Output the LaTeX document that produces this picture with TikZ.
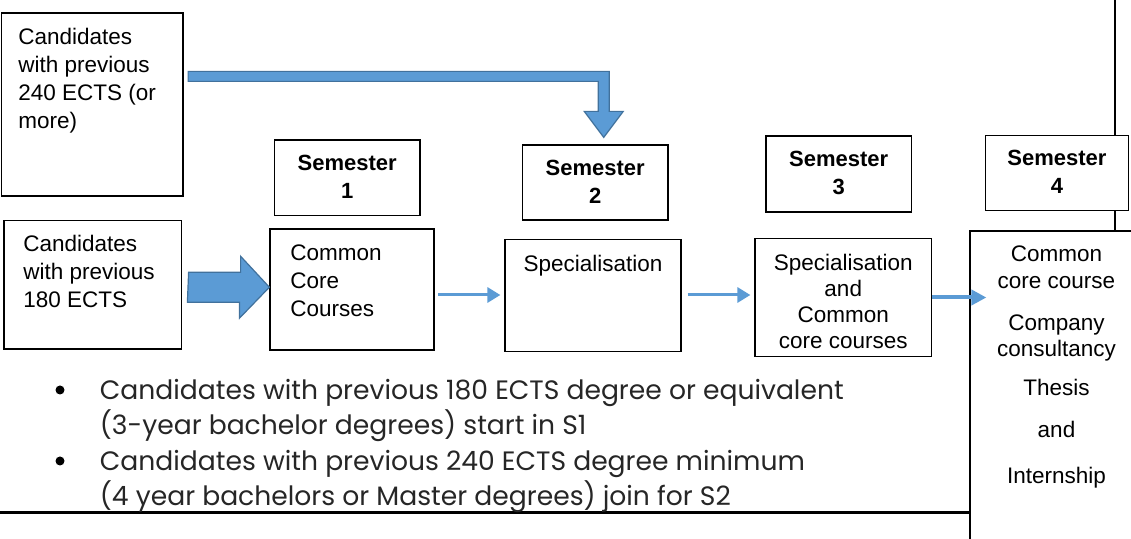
\documentclass[tikz,border=0pt]{standalone}
\usepackage{fontspec}
\setmainfont{Liberation Sans}
\newfontfamily\bulletfont{Poppins}
\usetikzlibrary{calc,fit,arrows.meta}
\definecolor{arrowblue}{HTML}{5B9BD5}
\definecolor{arrowedge}{HTML}{41719C}
\tikzset{
  box/.style={draw, line width=0.6pt, inner sep=0pt, fill=white},
  semtext/.style={inner sep=0pt, font=\bfseries\fontsize{11}{14}\selectfont, align=center},
  boxtext/.style={inner sep=0pt, font=\fontsize{11.25}{14}\selectfont},
  fatarrow/.style={fill=arrowblue, draw=arrowedge, line width=0.6pt, line join=miter},
  thinarrow/.style={draw=arrowblue, line width=1.5pt, -{Triangle[length=6.5pt,width=7.5pt]}},
  rule/.style={line width=1.2pt},
  bullettext/.style={inner sep=0pt, font=\bulletfont\fontsize{13.3}{17.5}\selectfont, text=black!85, align=left},
  dot/.style={circle, fill=black, inner sep=0pt, minimum size=4.5pt},
}
\begin{document}
\begin{tikzpicture}[x=0.5pt, y=-0.5pt]
			%%%%% FRAME %%%%%
			\clip (0,0) rectangle (1131,539);
			\draw[rule] (1115,-5) -- (1115,231);
			\draw[rule] (0,512.5) -- (970,512.5);
			
			%%%%% ENTRY BOXES %%%%%
			\node[box, fit={(1.5,13) (183,196)}] (b240) {};
			\node[boxtext, anchor=north west, align=left] (t240) at (18,28) {Candidates\\with previous\\240 ECTS (or\\more)};
			
			\node[box, fit={(4,220.5) (181.5,349)}] (b180) {};
			\node[boxtext, anchor=north west, align=left] (t180) at (23,235) {Candidates\\with previous\\180 ECTS};
			
			%%%%% SEMESTERS %%%%%
			\node[box, fit={(274.5,140) (420,215.5)}] (sem1) {};
			\node[semtext, anchor=north] (ts1) at (sem1.north |- 0,155) {Semester\\1};
			\node[box, fit={(522.5,145) (668,220)}] (sem2) {};
			\node[semtext, anchor=north] (ts2) at (sem2.north |- 0,160) {Semester\\2};
			\node[box, fit={(766,136) (911.5,212)}] (sem3) {};
			\node[semtext, anchor=north] (ts3) at (sem3.north |- 0,151) {Semester\\3};
			\node[box, fit={(985.5,135.5) (1128.5,210.5)}] (sem4) {};
			\node[semtext, anchor=north] (ts4) at (sem4.north |- 0,150) {Semester\\4};
			
			\node[box, fit={(270,229) (434,350)}] (ccc) {};
			\node[boxtext, anchor=north west, align=left] (tccc) at (290,244.5) {Common\\Core\\Courses};
			
			\node[box, fit={(505,239.5) (681,351.5)}] (spec) {};
			\node[boxtext, anchor=north] (tspec) at (spec.north |- 0,255) {Specialisation};
			
			\node[box, fit={(755,238.5) (931.5,356.5)}] (spc) {};
			\node[boxtext, anchor=north, align=center, font=\fontsize{11.25}{12.9}\selectfont] (tspc) at (spc.north |- 0,254) {Specialisation\\and\\Common\\core courses};
			
			\node[box, fit={(970,231) (1140,550)}] (s4c) {};
			\node[boxtext, anchor=north, align=center, font=\fontsize{11.25}{13.3}\selectfont] (ts4c) at (1056.5,245.5) {Common\\core course\\[7.7pt]Company\\consultancy\\[6pt]Thesis\\[7.8pt]and\\[9.7pt]Internship};
			
			%%%%% ARROWS %%%%%
			\coordinate (flow) at (0,295);
			\draw[fatarrow] ($(b180.east)+(6.5,2.5)$) coordinate (fa) ++(0,-15) -- ++(52,0) -- ++(0,-16) -- (ccc.west |- fa) -- ++(-30,31) -- ++(0,-16) -- ++(-52,0) -- cycle;
			
			\coordinate (ba) at ($(b240.north east)+(4.5,59)$);
			\coordinate (bt) at ($(sem2.north)+(8.5,-7)$);
			\draw[fatarrow] (ba) -- ($(ba -| bt)+(5.5,0)$) -- ($(bt)+(5.5,-26)$) -- ($(bt)+(19.5,-26)$) -- (bt) -- ($(bt)+(-19.5,-26)$) -- ($(bt)+(-5.5,-26)$) -- ($(ba -| bt)+(-5.5,10)$) -- ($(ba)+(0,10)$) -- cycle;
			
			\draw[thinarrow, shorten <=1.75pt, shorten >=2pt] (ccc.east |- flow) -- (spec.west |- flow);
			\draw[thinarrow, shorten <=3pt, shorten >=2pt] (spec.east |- flow) -- (spc.west |- flow);
			\draw[thinarrow, line width=2pt, -{Triangle[length=7.5pt,width=7.5pt]}] (spc.east) -- ($(spc.east -| s4c.west)+(17,0)$);
			
			%%%%% NOTES %%%%%
			\node[dot] (dot1) at (60,390) {};
			\node[bullettext, anchor=north west] (item1) at (99.5,378.5) {Candidates with previous 180 ECTS degree or equivalent\\(3-year bachelor degrees) start in S1};
			\node[dot] (dot2) at (60,461) {};
			\node[bullettext, anchor=north west] (item2) at (99.5,449.5) {Candidates with previous 240 ECTS degree minimum\\(4 year bachelors or Master degrees) join for S2};
			
			%%%%% END %%%%%
\end{tikzpicture}
\end{document}
